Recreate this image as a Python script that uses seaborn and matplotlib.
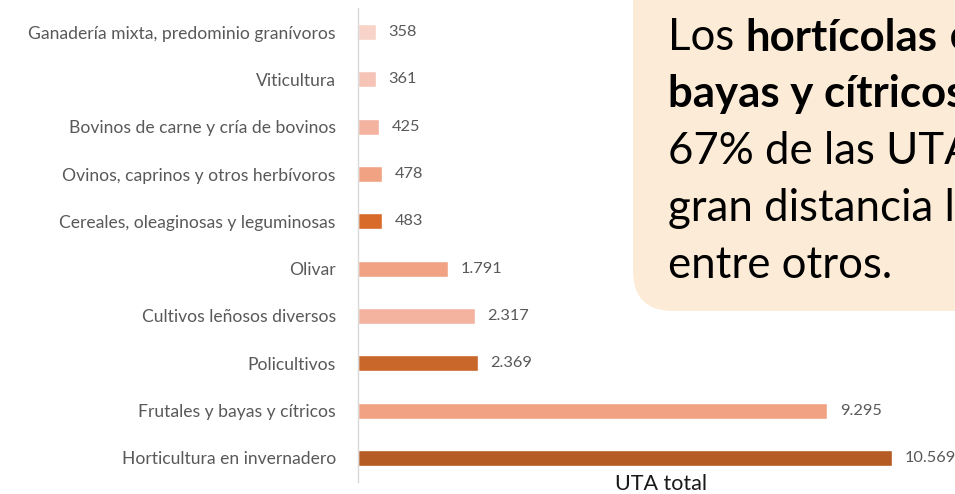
import matplotlib
matplotlib.use("Agg")
import matplotlib.pyplot as plt
import seaborn as sns
import pandas as pd
from matplotlib.patches import FancyBboxPatch

categories = [
    "Ganadería mixta, predominio granívoros",
    "Viticultura",
    "Bovinos de carne y cría de bovinos",
    "Ovinos, caprinos y otros herbívoros",
    "Cereales, oleaginosas y leguminosas",
    "Olivar",
    "Cultivos leñosos diversos",
    "Policultivos",
    "Frutales y bayas y cítricos",
    "Horticultura en invernadero",
]
values = [358, 361, 425, 478, 483, 1791, 2317, 2369, 9295, 10569]
colors = ["#F8D3C8", "#F6C4B6", "#F3B39E", "#F0A283", "#D86A2A",
          "#F0A283", "#F3B39E", "#C9662A", "#F0A283", "#B55B24"]
x_label = "UTA total"

sns.set_style("white")
plt.rcParams["font.family"] = ["Lato", "DejaVu Sans"]

df = pd.DataFrame({"cat": categories, "val": values})

W, H = 955, 494
fig = plt.figure(figsize=(W / 100, H / 100), dpi=100)

# Callout box (drawn behind everything)
box = FancyBboxPatch((6.33, 1.83), 4.0, 3.6, boxstyle="round,pad=0,rounding_size=0.40",
                     transform=fig.dpi_scale_trans, facecolor="#FCEBD6", edgecolor="none",
                     zorder=-5)
fig.add_artist(box)

left, right = 358, 964
top, bottom = 8.4, 481.6
ax = fig.add_axes([left / W, 1 - bottom / H, (right - left) / W, (bottom - top) / H])
ax.set_facecolor("none")

sns.barplot(data=df, y="cat", x="val", hue="cat", palette=colors, legend=False,
            orient="h", width=0.34, ax=ax, saturation=1)

ax.set_xlim(0, 12000)
ax.set_ylim(9.5, -0.5)
ax.set_xticks([])
ax.set_ylabel("")
ax.set_xlabel("")
for s in ["top", "right", "bottom"]:
    ax.spines[s].set_visible(False)
ax.spines["left"].set_color("#D9D9D9")
ax.spines["left"].set_linewidth(1.0)
ax.tick_params(axis="y", length=0, pad=16, labelsize=12.6, labelcolor="#595959")

for cont in ax.containers:
    labs = [f"{int(round(b.get_width())):,}".replace(",", ".") for b in cont]
    ax.bar_label(cont, labels=labs, padding=9, fontsize=11.8, color="#595959")

fig.text(661 / W, 1 - 484 / H, x_label, fontsize=15.5, color="#1a1a1a",
         ha="center", va="center")

fs = 31.5
lines = [
    [("Los ", "normal"), ("hortícolas", "bold"), (" en invernadero", "normal")],
    [("bayas y cítricos", "bold"), (" concentran", "normal")],
    [("67% de las UTA", "normal")],
    [("gran distancia les", "normal")],
    [("entre otros.", "normal")],
]
y0 = 494 - 50
for i, parts in enumerate(lines):
    y = (y0 - i * 57) / 100
    last = None
    for txt, wt in parts:
        if last is None:
            last = fig.text(6.68, y, txt, transform=fig.dpi_scale_trans, fontsize=fs,
                            fontweight=wt, color="black", va="baseline", ha="left")
        else:
            last = fig.add_artist(matplotlib.text.Annotation(
                txt, xy=(1, 0), xycoords=last, fontsize=fs, fontweight=wt,
                color="black", va="bottom", ha="left", annotation_clip=False))

fig.savefig("out.png", dpi=100)
